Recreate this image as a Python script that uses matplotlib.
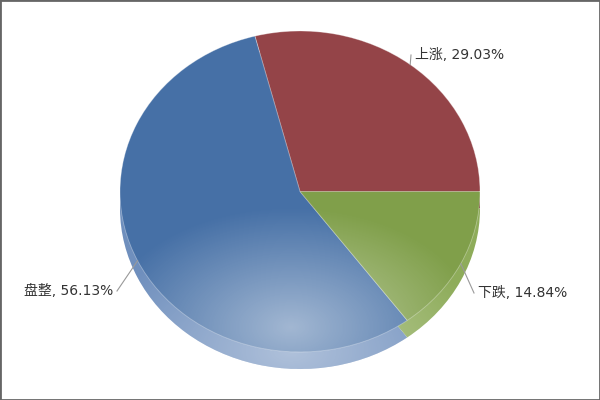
import numpy as np
import matplotlib.pyplot as plt
from matplotlib.patches import Ellipse, Rectangle

plt.rcParams['font.family'] = ['DejaVu Sans', 'Noto Sans CJK SC']

# 数据
labels = ['上涨', '盘整', '下跌']
values = [29.03, 56.13, 14.84]
colors = ['#944448', '#4670A6', '#809F4A']
side_colors = ['#7E3A3D', '#6F8FBD', '#8EAC5A']

# 饼图几何（像素）
cx, cy = 300, 191.5
rx, ry = 180, 160.5
depth = 17

fig = plt.figure(figsize=(6, 4), dpi=100)
ax = fig.add_axes([0, 0, 1, 1])
# 以饼图为单位圆的坐标系，y 方向压扁
ax.set_xlim((0 - cx) / rx, (600 - cx) / rx)
ax.set_ylim((cy - 400) / ry, (cy - 0) / ry)
ax.axis('off')

d = depth / ry

# 侧面（向下平移）
side, _ = ax.pie(values, colors=side_colors, startangle=0, counterclock=True,
                 center=(0, -d), radius=1, frame=True,
                 wedgeprops=dict(linewidth=0))
# 顶面
wedges, _ = ax.pie(values, colors=colors, startangle=0, counterclock=True,
                   center=(0, 0), radius=1, frame=True,
                   wedgeprops=dict(linewidth=0.6, edgecolor=(1, 1, 1, 0.35)))
ax.set_xlim((0 - cx) / rx, (600 - cx) / rx)
ax.set_ylim((cy - 400) / ry, (cy - 0) / ry)
ax.set_aspect('auto')
ax.axis('off')

# 光泽渐变
xs = np.linspace(-1.05, 1.05, 300)
ys = np.linspace(-1.2, 1.05, 300)
X, Y = np.meshgrid(xs, ys)
r = np.sqrt(((X + 0.05) / 1.05) ** 2 + ((Y + 0.85) / 0.75) ** 2)
alpha = np.clip(0.5 * (1 - r), 0, 1)
alpha[Y > -0.02] = 0
rgba = np.zeros(X.shape + (4,))
rgba[..., :3] = 1
rgba[..., 3] = alpha
clip = Ellipse((0, 0), 2, 2, transform=ax.transData)
im = ax.imshow(rgba, extent=(xs[0], xs[-1], ys[0], ys[-1]), origin='lower',
               aspect='auto', zorder=3, interpolation='bilinear')
im.set_clip_path(clip)

r2 = np.sqrt(((X + 0.05) / 0.9) ** 2 + ((Y + 1.0) / 0.6) ** 2)
alpha2 = np.clip(0.45 * (1 - r2 * 0.8), 0, 1)
rgba2 = rgba.copy()
rgba2[..., 3] = alpha2
im2 = ax.imshow(rgba2, extent=(xs[0], xs[-1], ys[0], ys[-1]), origin='lower',
                aspect='auto', zorder=0.5, interpolation='bilinear')
im2.set_clip_path(Ellipse((0, -d), 2, 2, transform=ax.transData))
for w in side:
    w.set_zorder(0.4)
for w in wedges:
    w.set_zorder(1)

# 标签与引线
text_pos = {'上涨': (415, 55, 'left'), '下跌': (478, 293, 'left'), '盘整': (113, 291, 'right')}
for w, lab, v in zip(wedges, labels, values):
    ang = np.deg2rad((w.theta1 + w.theta2) / 2)
    px, py = np.cos(ang), np.sin(ang)
    tx, ty, ha = text_pos[lab]
    tx_d = (tx - cx) / rx
    ty_d = (cy - ty) / ry
    gap = 4 / rx if ha == 'left' else -4 / rx
    ax.plot([px, tx_d - gap - 0.0 * gap, tx_d - gap], [py, ty_d, ty_d],
            color='#999999', lw=0.8, zorder=4)
    ax.text(tx_d, ty_d, f'{lab}, {v:.2f}%', ha=ha, va='center',
            fontsize=10, color='#333333', zorder=5)

# 外框
fig.patches.append(Rectangle((0, 0), 1, 1, transform=fig.transFigure,
                             fill=False, edgecolor='#666666', linewidth=2))

fig.savefig('out.png', dpi=100)
